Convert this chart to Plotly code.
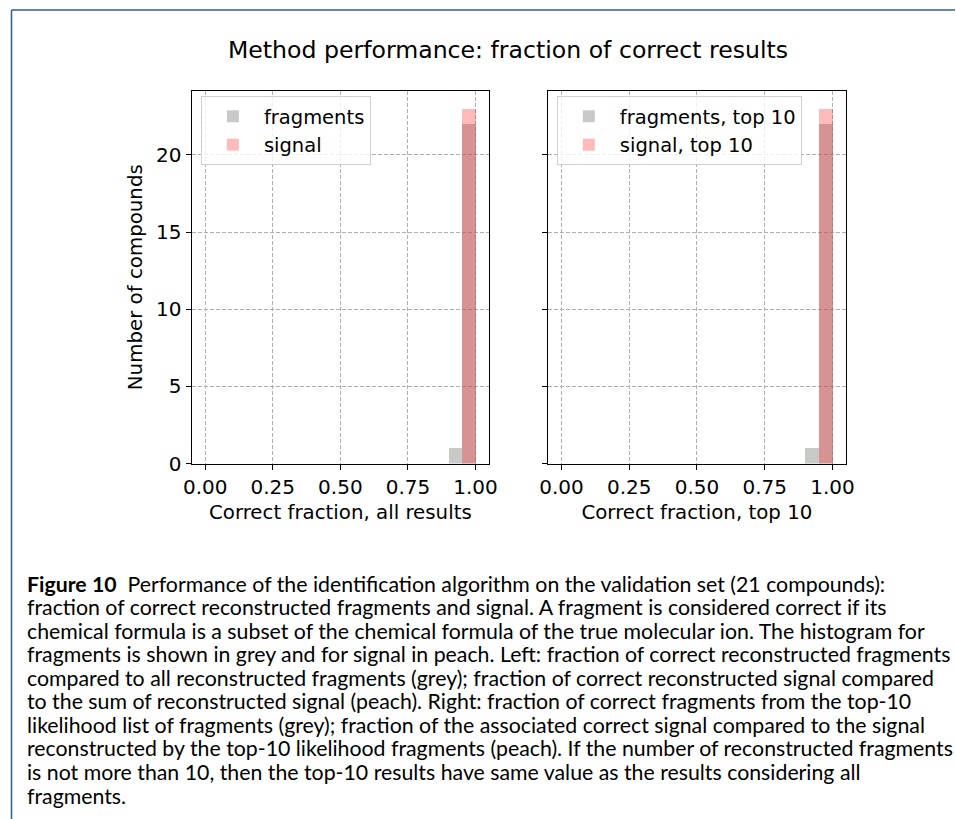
import plotly.graph_objects as go

# ---- data ----
bin_width = 0.05
bin_lefts = [0.90, 0.95]
frag_all = [1, 22]
signal_all = [0, 23]
frag_top10 = [1, 22]
signal_top10 = [0, 23]

x_ticks = [0.0, 0.25, 0.5, 0.75, 1.0]
x_ticklabels = ["0.00", "0.25", "0.50", "0.75", "1.00"]
y_ticks = [0, 5, 10, 15, 20]

title = "Method performance: fraction of correct results"
xlabels = ["Correct fraction, all results", "Correct fraction, top 10"]
ylabel = "Number of compounds"
legend_names = [["fragments", "signal"], ["fragments, top 10", "signal, top 10"]]

caption_lines = [
    "<b>Figure 10</b>  Performance of the identification algorithm on the validation set (21 compounds):",
    "fraction of correct reconstructed fragments and signal. A fragment is considered correct if its",
    "chemical formula is a subset of the chemical formula of the true molecular ion. The histogram for",
    "fragments is shown in grey and for signal in peach. Left: fraction of correct reconstructed fragments",
    "compared to all reconstructed fragments (grey); fraction of correct reconstructed signal compared",
    "to the sum of reconstructed signal (peach). Right: fraction of correct fragments from the top-10",
    "likelihood list of fragments (grey); fraction of the associated correct signal compared to the signal",
    "reconstructed by the top-10 likelihood fragments (peach). If the number of reconstructed fragments",
    "is not more than 10, then the top-10 results have same value as the results considering all",
    "fragments.",
]

# ---- layout constants (photo is scaled ~0.984 and shifted 7.5px right) ----
S, OX = 0.9843, 7.5
W, H = 964, 832
def px(x):
    return ((x - OX) / S) / W
def py(y):
    return 1 - (y / S) / H

FONT = "DejaVu Sans"
GREY = "rgba(140,145,140,0.48)"
PEACH = "rgba(255,0,0,0.27)"

centers = [b + bin_width / 2 for b in bin_lefts]

fig = go.Figure()
series = [
    (frag_all, signal_all, "x", "y", "legend"),
    (frag_top10, signal_top10, "x2", "y2", "legend2"),
]
for i, (fr, sg, xa, ya, lg) in enumerate(series):
    fig.add_trace(go.Bar(x=centers, y=fr, width=bin_width, name=legend_names[i][0],
                         marker=dict(color=GREY, line=dict(width=0)),
                         xaxis=xa, yaxis=ya, legend=lg))
    fig.add_trace(go.Bar(x=centers, y=sg, width=bin_width, name=legend_names[i][1],
                         marker=dict(color=PEACH, line=dict(width=0)),
                         xaxis=xa, yaxis=ya, legend=lg))

ydom = [py(463), py(90.7)]
xdoms = [[px(190.7), px(489)], [px(548), px(847)]]

axis_common = dict(
    showline=True, linecolor="black", linewidth=1.2, mirror=True,
    ticks="outside", ticklen=5, tickcolor="black", tickwidth=1,
    showgrid=True, gridcolor="#b0b0b0", griddash="4px,2px", gridwidth=1,
    zeroline=False, tickfont=dict(family=FONT, size=20, color="black"),
)

legend_common = dict(xanchor="left", yanchor="top",
                     bgcolor="rgba(255,255,255,0.8)", bordercolor="#d0d0d0", borderwidth=1,
                     font=dict(family=FONT, size=19.5), tracegroupgap=3, itemwidth=52)

fig.update_layout(
    width=W, height=H,
    margin=dict(l=0, r=0, t=0, b=0),
    paper_bgcolor="white", plot_bgcolor="white",
    barmode="overlay",
    bargap=0,
    font=dict(family=FONT, color="black"),
    showlegend=True,
    xaxis=dict(domain=xdoms[0], range=[-0.05, 1.05], tickvals=x_ticks, ticktext=x_ticklabels,
               anchor="y", title=dict(text=xlabels[0], font=dict(size=19.8), standoff=7), **axis_common),
    yaxis=dict(domain=ydom, range=[0, 24.15], tickvals=y_ticks, anchor="x",
               title=dict(text=ylabel, font=dict(size=19.8), standoff=8), **axis_common),
    xaxis2=dict(domain=xdoms[1], range=[-0.05, 1.05], tickvals=x_ticks, ticktext=x_ticklabels,
                anchor="y2", title=dict(text=xlabels[1], font=dict(size=19.8), standoff=7), **axis_common),
    yaxis2=dict(domain=ydom, range=[0, 24.15], tickvals=y_ticks, anchor="x2",
                showticklabels=False, matches="y", **axis_common),
    legend=dict(x=px(200), y=py(96), **legend_common),
    legend2=dict(x=px(557), y=py(96), **legend_common),
)

annotations = [dict(text=title, x=px(508), y=py(50), xref="paper", yref="paper",
                    showarrow=False, xanchor="center", yanchor="middle",
                    font=dict(family=FONT, size=23.6, color="black"))]
line_y0 = 583
line_step = 23.5
for k, line in enumerate(caption_lines):
    annotations.append(dict(text=line, x=px(24), y=py(line_y0 + k * line_step),
                            xref="paper", yref="paper", showarrow=False,
                            xanchor="left", yanchor="middle",
                            font=dict(family="Lato", size=21.3, color="black")))
fig.update_layout(annotations=annotations)

BLUE = "#2e5c96"
fig.add_shape(type="line", xref="paper", yref="paper", x0=px(10), x1=1, y0=py(10), y1=py(10),
              line=dict(color=BLUE, width=1.5))
fig.add_shape(type="line", xref="paper", yref="paper", x0=px(10), x1=px(10), y0=py(10), y1=0,
              line=dict(color=BLUE, width=1.5))

page_css = ("document.body.style.margin='0';document.body.style.padding='0';"
            "document.body.style.overflow='hidden';"
            "document.documentElement.style.overflow='hidden';")
fig.write_html("out.html", post_script=page_css, config={"displayModeBar": False})
